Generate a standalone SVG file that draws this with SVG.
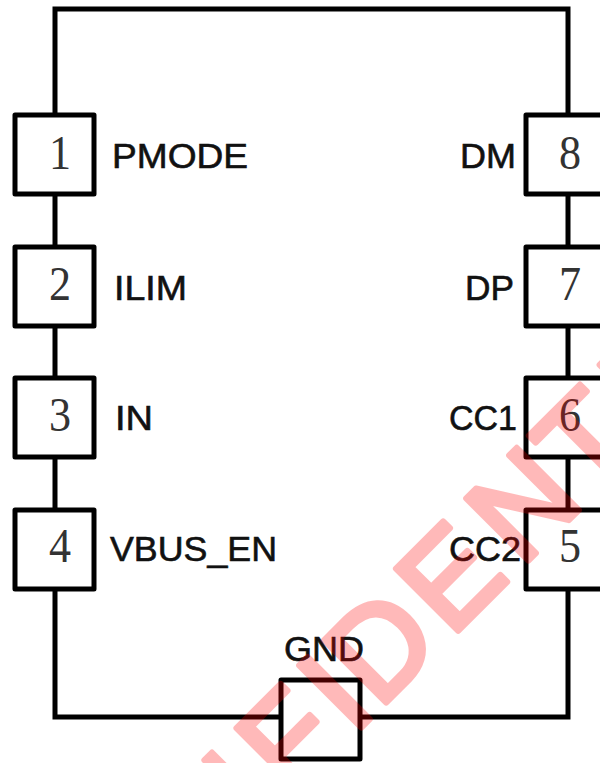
<svg xmlns="http://www.w3.org/2000/svg" width="600" height="763" viewBox="0 0 600 763">
<style>
.l{fill:none;stroke:#000;stroke-width:5}
.b{fill:#fff;stroke:#000;stroke-width:5;stroke-linejoin:round}
.n{font-family:"Liberation Serif",serif;font-size:49px;fill:#333;text-anchor:middle}
.t{font-family:"Liberation Sans",sans-serif;font-size:35px;fill:#111;stroke:#111;stroke-width:.6}
.w{font-family:"Liberation Sans",sans-serif;font-size:128px;fill:#f00;stroke:#f00;stroke-width:6;stroke-linejoin:round;stroke-linecap:round;opacity:.27;text-anchor:middle}
</style>
<rect width="600" height="763" fill="#fff"/>
<g id="connectors"><path class="l" d="M55 115V9H568V115M55 195V247M55 327V378M55 458V510M55 590V717H280M360 717H568V590M568 195V247M568 327V378M568 458V510"/></g>
<g id="pin1"><rect class="b" x="15" y="115" width="79" height="79"/><text class="n" transform="translate(60 169) scale(.9 1)">1</text><text class="t" x="112" y="168" textLength="136" lengthAdjust="spacingAndGlyphs">PMODE</text></g>
<g id="pin2"><rect class="b" x="15" y="247" width="79" height="79"/><text class="n" transform="translate(60 300) scale(.9 1)">2</text><text class="t" x="114" y="300" textLength="73" lengthAdjust="spacingAndGlyphs">ILIM</text></g>
<g id="pin3"><rect class="b" x="15" y="378" width="79" height="79"/><text class="n" transform="translate(60 431) scale(.9 1)">3</text><text class="t" x="115" y="430" textLength="38" lengthAdjust="spacingAndGlyphs">IN</text></g>
<g id="pin4"><rect class="b" x="15" y="510" width="79" height="79"/><text class="n" transform="translate(60 562) scale(.9 1)">4</text><text class="t" x="110" y="561" textLength="167" lengthAdjust="spacingAndGlyphs">VBUS_EN</text></g>
<g id="pin8"><rect class="b" x="526" y="115" width="90" height="79"/><text class="n" transform="translate(570 169) scale(.9 1)">8</text><text class="t" x="460" y="168" textLength="56" lengthAdjust="spacingAndGlyphs">DM</text></g>
<g id="pin7"><rect class="b" x="526" y="247" width="90" height="79"/><text class="n" transform="translate(570 300) scale(.9 1)">7</text><text class="t" x="465" y="300" textLength="49" lengthAdjust="spacingAndGlyphs">DP</text></g>
<g id="pin6"><rect class="b" x="526" y="378" width="90" height="79"/><text class="n" transform="translate(570 431) scale(.9 1)">6</text><text class="t" x="449" y="430" textLength="68" lengthAdjust="spacingAndGlyphs">CC1</text></g>
<g id="pin5"><rect class="b" x="526" y="510" width="90" height="79"/><text class="n" transform="translate(570 562) scale(.9 1)">5</text><text class="t" x="449" y="561" textLength="72" lengthAdjust="spacingAndGlyphs">CC2</text></g>
<g id="gnd"><rect class="b" x="281" y="680" width="79" height="79"/><text class="t" x="284" y="661" textLength="80" lengthAdjust="spacingAndGlyphs">GND</text></g>
<text class="w" transform="rotate(-45)" y="770" x="-610 -520 -418 -319 -253 -188 -90 13 102 172 260 340">CONFIDENTIAL</text>
</svg>
